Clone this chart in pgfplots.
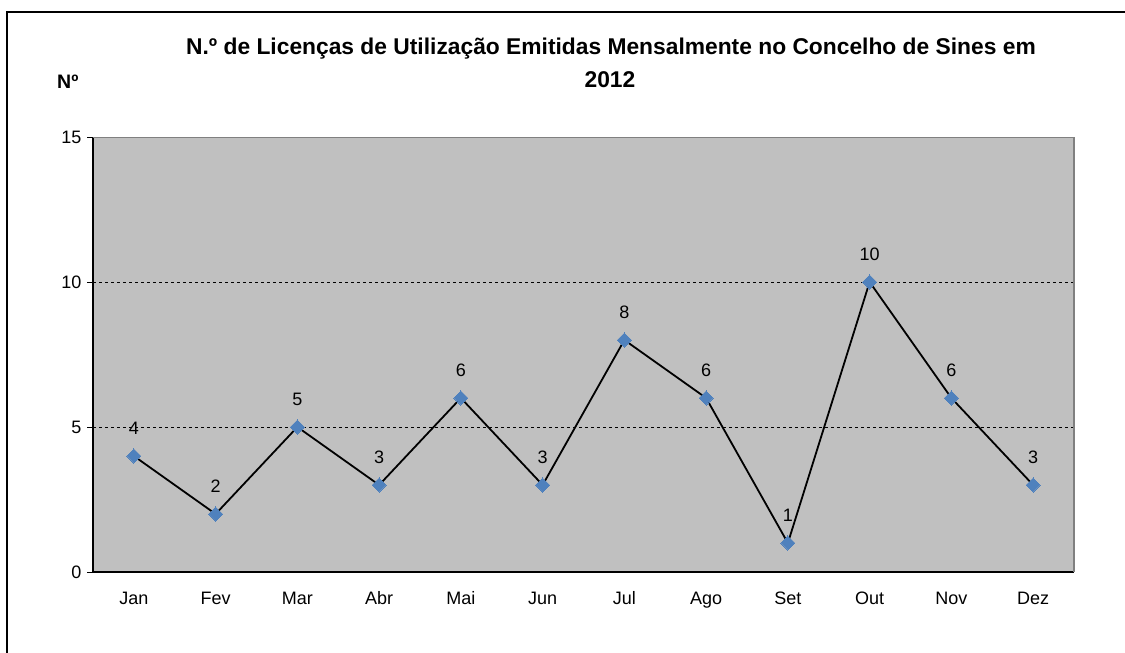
\documentclass[border=0pt]{standalone}
\usepackage{fontspec}
\setmainfont{Liberation Sans}
\usepackage{pgfplots}
\pgfplotsset{compat=1.18}
\definecolor{plotgray}{HTML}{C0C0C0}
\definecolor{edgegray}{HTML}{808080}
\definecolor{mkblue}{HTML}{4F81BD}
\begin{document}
\begin{tikzpicture}
\useasboundingbox (0pt,0pt) rectangle (1125pt,-653pt);
\draw[line width=1.6pt] (7pt,-653pt) -- (7pt,-12pt) -- (1125pt,-12pt);
\node[anchor=base,font=\fontsize{22.8}{26}\selectfont\bfseries,inner sep=0] at (611pt,-54pt) {N.º de Licenças de Utilização Emitidas Mensalmente no Concelho de Sines em};
\node[anchor=base,font=\fontsize{22.8}{26}\selectfont\bfseries,inner sep=0] at (610pt,-87pt) {2012};
\node[anchor=base west,font=\fontsize{19.5}{22}\selectfont\bfseries,inner sep=0] at (57pt,-88pt) {Nº};
\begin{axis}[
  at={(93pt,-572pt)}, anchor=south west,
  width=981pt, height=435pt, scale only axis,
  xmin=0.5, xmax=12.5, ymin=0, ymax=15,
  axis background/.style={fill=plotgray},
  axis x line*=bottom, axis y line*=left,
  axis line style={black, line width=1.2pt, -},
  xtick={1,...,12},
  xticklabels={Jan,Fev,Mar,Abr,Mai,Jun,Jul,Ago,Set,Out,Nov,Dez},
  major x tick style={draw=none},
  extra x ticks={0.5,1.5,...,12.5},
  extra x tick labels={},
  extra x tick style={major tick length=6pt, tick style={black, line width=0.8pt}, grid=none},
  ytick={0,5,10,15},
  tick align=outside,
  y tick style={black, line width=0.8pt},
  major tick length=6pt,
  ymajorgrids,
  grid style={black, dashed, line width=0.6pt},
  /pgf/number format/assume math mode=true,
  tick label style={font=\fontsize{18}{21}\selectfont},
  xticklabel style={text height=13pt, text depth=4pt, yshift=-10pt},
  yticklabel style={xshift=-2pt},
  nodes near coords,
  every node near coord/.style={anchor=base, yshift=22pt, inner sep=0, font=\fontsize{18}{21}\selectfont, black},
  clip=false,
]
\addplot[black, line width=1.8pt, mark=square*, mark size=5pt,
  mark options={fill=mkblue, draw=mkblue, line width=0pt, rotate=45}]
  coordinates {(1,4) (2,2) (3,5) (4,3) (5,6) (6,3) (7,8) (8,6) (9,1) (10,10) (11,6) (12,3)};
\draw[edgegray, line width=1pt] (rel axis cs:0,1) -- (rel axis cs:1,1);
\draw[edgegray, line width=2.5pt] (rel axis cs:1,1) -- (rel axis cs:1,0);
\end{axis}
\end{tikzpicture}
\end{document}
